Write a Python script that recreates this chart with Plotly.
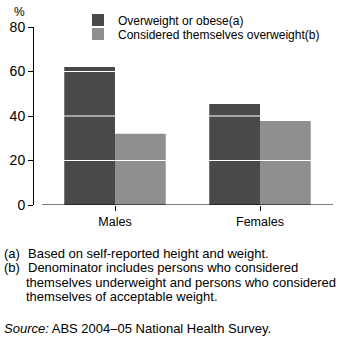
import plotly.graph_objects as go

categories = ["Males", "Females"]
overweight_obese = [62.0, 45.4]
considered_overweight = [32.0, 37.8]
series_names = ["Overweight or obese(a)", "Considered themselves overweight(b)"]
y_ticks = [0, 20, 40, 60, 80]

W, H = 338, 337
L, R, T, B = 34, 5, 27, 132
pw = W - L - R
ph = H - T - B

def px_x(x):
    return (x - L) / pw

def px_y(y):
    return 1 - (y - T) / ph

FONT = "Liberation Sans, Arial, sans-serif"
FN = 13

fig = go.Figure()
fig.add_trace(go.Bar(x=categories, y=overweight_obese, name=series_names[0],
                     marker=dict(color="#494949", line=dict(width=0)), legend="legend"))
fig.add_trace(go.Bar(x=categories, y=considered_overweight, name=series_names[1],
                     marker=dict(color="#8f8f8f", line=dict(width=0)), legend="legend2"))

shapes = []
# white gridlines drawn over bars
for v in y_ticks[1:-1]:
    shapes.append(dict(type="line", xref="paper", yref="y", x0=0, x1=1, y0=v, y1=v,
                       line=dict(color="white", width=1.2), layer="above"))
# x axis line (offset from y axis)
shapes.append(dict(type="line", xref="paper", yref="y", x0=px_x(42), x1=1, y0=0, y1=0,
                   line=dict(color="black", width=1.2), layer="above"))

def note(text, x, y, size=FN):
    return dict(text=text, x=px_x(x), y=px_y(y), xref="paper", yref="paper", showarrow=False,
                font=dict(size=size, color="black", family=FONT), xanchor="left", yanchor="middle")

annotations = [
    dict(text="%", x=px_x(19), y=px_y(12), xref="paper", yref="paper", showarrow=False,
         font=dict(size=12, color="black", family=FONT), xanchor="center", yanchor="middle"),
    note("(a)", 2, 253),
    note("Based on self-reported height and weight.", 26, 253),
    note("(b)", 2, 267),
    note("Denominator includes persons who considered", 26, 267),
    note("themselves underweight and persons who considered", 24, 282),
    note("themselves of acceptable weight.", 24, 296),
    note("<i>Source:</i> ABS 2004\u201305 National Health Survey.", 2, 328),
]

leg_common = dict(xanchor="left", yanchor="middle", bgcolor="rgba(0,0,0,0)",
                  font=dict(size=12, family=FONT, color="black"), itemclick=False,
                  borderwidth=0)

fig.update_layout(
    width=W, height=H,
    margin=dict(l=L, r=R, t=T, b=B, pad=0),
    paper_bgcolor="white", plot_bgcolor="white",
    barmode="group", bargap=0.3, bargroupgap=0,
    font=dict(family=FONT, color="black", size=12),
    showlegend=True,
    legend=dict(x=px_x(78), y=px_y(20), **leg_common),
    legend2=dict(x=px_x(78), y=px_y(34), **leg_common),
    shapes=shapes,
    annotations=annotations,
    xaxis=dict(range=[-(115 - L) / 145, 1 + (W - R - 260) / 145],
               showline=False, showgrid=False, zeroline=False,
               ticks="outside", ticklen=5, tickcolor="black", tickwidth=1,
               tickfont=dict(size=12.5, family=FONT)),
    yaxis=dict(range=[0, 80], tickvals=y_ticks, showline=True, linecolor="black",
               linewidth=1, showgrid=False, zeroline=False,
               ticks="outside", ticklen=5, tickcolor="black", tickwidth=1,
               tickfont=dict(size=14, family=FONT)),
)

fig.write_html("out.html")
